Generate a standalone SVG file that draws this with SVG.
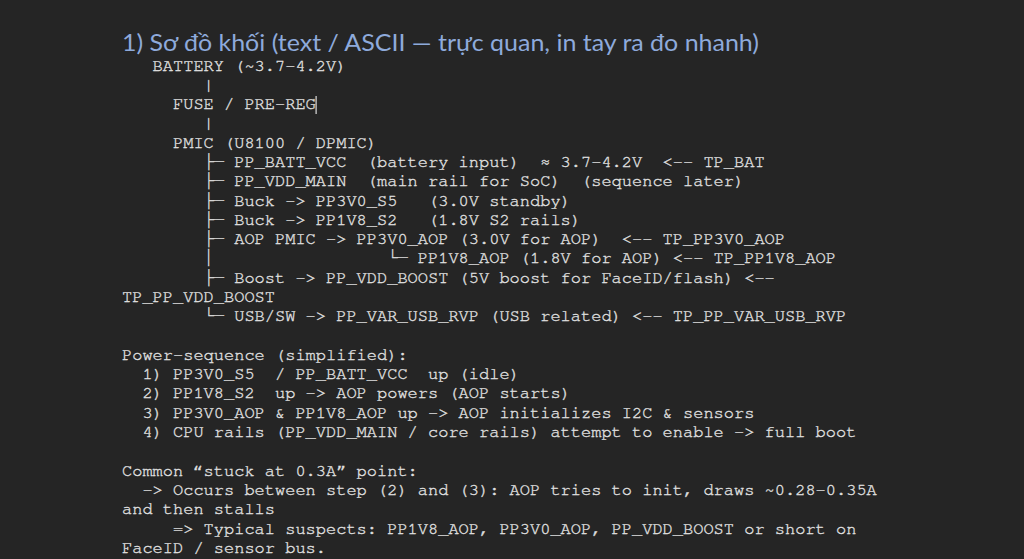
<svg xmlns="http://www.w3.org/2000/svg" width="1024" height="559" viewBox="0 0 1024 559" xml:space="preserve">
<style>
.bg{fill:#252525}
.title{font-family:Lato,"Open Sans","Noto Sans",sans-serif;font-size:22.4px;fill:#8eaadb}
.m{font-family:"Nimbus Mono PS","Nimbus Mono L",FreeMono,"Courier New","Liberation Mono","DejaVu Sans Mono",monospace;font-size:17px;fill:#e0e0e0;stroke:#e0e0e0;stroke-width:0.35px;white-space:pre}
.caret{fill:#dcdcdc}
</style>
<rect class="bg" x="0" y="0" width="1024" height="559"/>
<g id="title">
<text class="title" x="122" y="51" textLength="637" lengthAdjust="spacingAndGlyphs">1) Sơ đồ khối (text / ASCII — trực quan, in tay ra đo nhanh)</text>
</g>
<g id="block-diagram">
<text class="m" x="122" y="70.5">   BATTERY (~3.7–4.2V)</text>
<text class="m" x="122" y="89.8">        |</text>
<text class="m" x="122" y="109.1">     FUSE / PRE-REG</text>
<rect class="caret" x="315.5" y="96" width="1.2" height="18"/>
<text class="m" x="122" y="128.4">        |</text>
<text class="m" x="122" y="147.7">     PMIC (U8100 / DPMIC)</text>
<text class="m" x="122" y="166.9">        ├─ PP_BATT_VCC  (battery input)  ≈ 3.7–4.2V  &lt;-- TP_BAT</text>
<text class="m" x="122" y="186.2">        ├─ PP_VDD_MAIN  (main rail for SoC)  (sequence later)</text>
<text class="m" x="122" y="205.5">        ├─ Buck -&gt; PP3V0_S5   (3.0V standby)</text>
<text class="m" x="122" y="224.8">        ├─ Buck -&gt; PP1V8_S2   (1.8V S2 rails)</text>
<text class="m" x="122" y="244.1">        ├─ AOP PMIC -&gt; PP3V0_AOP (3.0V for AOP)  &lt;-- TP_PP3V0_AOP</text>
<text class="m" x="122" y="263.4">        │                 └─ PP1V8_AOP (1.8V for AOP) &lt;-- TP_PP1V8_AOP</text>
<text class="m" x="122" y="282.7">        ├─ Boost -&gt; PP_VDD_BOOST (5V boost for FaceID/flash) &lt;--</text>
<text class="m" x="122" y="302.0">TP_PP_VDD_BOOST</text>
<text class="m" x="122" y="321.3">        └─ USB/SW -&gt; PP_VAR_USB_RVP (USB related) &lt;-- TP_PP_VAR_USB_RVP</text>
</g>
<g id="power-sequence">
<text class="m" x="122" y="359.9">Power-sequence (simplified):</text>
<text class="m" x="122" y="379.1">  1) PP3V0_S5  / PP_BATT_VCC  up (idle)</text>
<text class="m" x="122" y="398.4">  2) PP1V8_S2  up -&gt; AOP powers (AOP starts)</text>
<text class="m" x="122" y="417.7">  3) PP3V0_AOP &amp; PP1V8_AOP up -&gt; AOP initializes I2C &amp; sensors</text>
<text class="m" x="122" y="437.0">  4) CPU rails (PP_VDD_MAIN / core rails) attempt to enable -&gt; full boot</text>
</g>
<g id="stuck-point">
<text class="m" x="122" y="475.6">Common “stuck at 0.3A” point:</text>
<text class="m" x="122" y="494.9">  -&gt; Occurs between step (2) and (3): AOP tries to init, draws ~0.28–0.35A</text>
<text class="m" x="122" y="514.2">and then stalls</text>
<text class="m" x="122" y="533.5">     =&gt; Typical suspects: PP1V8_AOP, PP3V0_AOP, PP_VDD_BOOST or short on</text>
<text class="m" x="122" y="552.8">FaceID / sensor bus.</text>
</g>
</svg>
